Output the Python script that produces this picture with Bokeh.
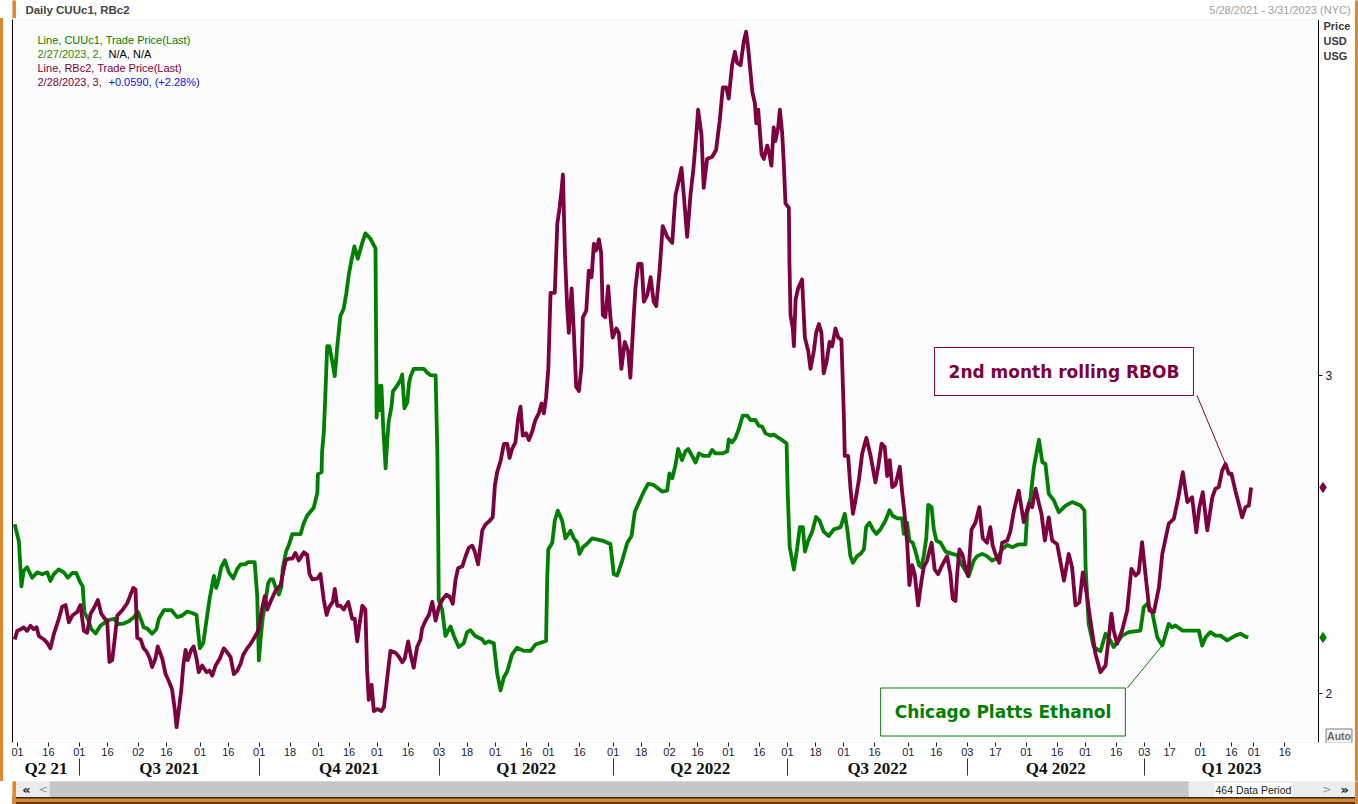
import numpy as np
from bokeh.plotting import figure
from bokeh.models import Range1d, LinearAxis, FixedTicker, Label, BoxAnnotation
from bokeh.layouts import column
from bokeh.embed import file_html
from bokeh.resources import INLINE

# ---------------- data ----------------
START = "2021-05-28"
HOLIDAYS = ["2021-05-31", "2021-07-05", "2021-09-06", "2021-11-25", "2021-12-24",
            "2022-01-17", "2022-02-21", "2022-04-15", "2022-05-30", "2022-06-20",
            "2022-07-04", "2022-09-05", "2022-11-24", "2022-12-26",
            "2023-01-02", "2023-01-16", "2023-02-20"]

tick_dates = ["2021-06-01", "2021-06-16", "2021-07-01", "2021-07-16", "2021-08-02", "2021-08-16",
              "2021-09-01", "2021-09-16", "2021-10-01", "2021-10-18", "2021-11-01", "2021-11-16",
              "2021-12-01", "2021-12-16", "2022-01-03", "2022-01-18", "2022-02-01", "2022-02-16",
              "2022-03-01", "2022-03-16", "2022-04-01", "2022-04-18", "2022-05-02", "2022-05-16",
              "2022-06-01", "2022-06-16", "2022-07-01", "2022-07-18", "2022-08-01", "2022-08-16",
              "2022-09-01", "2022-09-16", "2022-10-03", "2022-10-17", "2022-11-01", "2022-11-16",
              "2022-12-01", "2022-12-16", "2023-01-03", "2023-01-17", "2023-02-01", "2023-02-16",
              "2023-03-01", "2023-03-16"]
quarter_starts = ["2021-07-01", "2021-10-01", "2022-01-03", "2022-04-01", "2022-07-01",
                  "2022-10-03", "2023-01-03"]
quarter_names = ["Q2 21", "Q3 2021", "Q4 2021", "Q1 2022", "Q2 2022", "Q3 2022", "Q4 2022", "Q1 2023"]
price_ticks = [2, 3]

# (trading day since 5/28/2021, price USD/gal) -- Chicago Platts ethanol (CUUc1)
cuu_points = [
    (0.0, 2.532), (1.5, 2.478), (2.4, 2.337), (3.2, 2.386), (4.4, 2.397), (6.2, 2.364), (8.0, 2.381),
    (9.8, 2.375), (11.6, 2.381), (12.7, 2.354), (13.9, 2.375), (15.7, 2.390), (17.5, 2.381), (18.9, 2.364),
    (20.5, 2.379), (21.9, 2.379), (23.4, 2.348), (24.2, 2.337), (24.8, 2.256), (26.0, 2.235), (27.3, 2.202),
    (28.8, 2.189), (30.5, 2.213), (32.9, 2.229), (35.3, 2.235), (37.0, 2.218), (38.8, 2.220), (40.6, 2.227),
    (42.4, 2.240), (43.9, 2.256), (45.1, 2.229), (45.9, 2.208), (47.2, 2.204), (48.9, 2.188), (50.4, 2.202),
    (51.3, 2.235), (53.1, 2.262), (55.8, 2.262), (57.8, 2.240), (59.6, 2.245), (61.4, 2.258), (63.2, 2.253),
    (64.7, 2.247), (65.9, 2.142), (67.1, 2.159), (68.5, 2.245), (69.4, 2.300), (70.9, 2.370), (71.7, 2.332),
    (72.6, 2.359), (73.5, 2.397), (74.8, 2.419), (76.2, 2.381), (77.8, 2.362), (79.2, 2.392), (80.4, 2.406),
    (82.1, 2.406), (83.0, 2.413), (85.4, 2.413), (86.3, 2.308), (86.9, 2.104), (87.5, 2.170), (88.3, 2.241),
    (89.3, 2.294), (90.2, 2.347), (91.0, 2.359), (91.9, 2.359), (92.8, 2.335), (94.0, 2.311), (94.9, 2.335),
    (95.4, 2.394), (96.6, 2.447), (97.5, 2.465), (98.8, 2.501), (101.7, 2.501), (102.9, 2.536), (104.1, 2.560),
    (106.4, 2.584), (107.7, 2.631), (107.9, 2.690), (109.2, 2.696), (109.4, 2.761), (110.0, 2.820),
    (110.6, 2.950), (111.2, 3.092), (112.0, 3.092), (113.0, 3.045), (113.9, 2.998), (114.8, 3.092),
    (115.9, 3.187), (117.1, 3.211), (118.0, 3.258), (118.9, 3.317), (119.9, 3.365), (120.9, 3.406),
    (122.1, 3.367), (123.7, 3.418), (124.8, 3.447), (126.6, 3.430), (128.4, 3.400), (128.6, 3.140),
    (128.8, 2.868), (129.4, 2.968), (129.9, 2.891), (130.5, 2.968), (131.1, 2.844), (132.0, 2.708),
    (132.6, 2.797), (133.1, 2.856), (134.1, 2.903), (134.6, 2.950), (136.1, 2.968), (137.3, 2.986),
    (137.9, 3.003), (138.7, 2.897), (139.7, 2.915), (140.3, 2.974), (140.9, 2.998), (142.0, 3.021),
    (145.6, 3.021), (146.8, 3.009), (148.0, 3.001), (149.8, 3.000), (150.4, 2.761), (150.7, 2.525),
    (150.9, 2.294), (152.1, 2.264), (153.3, 2.181), (155.1, 2.211), (156.3, 2.181), (158.0, 2.146),
    (159.8, 2.158), (161.0, 2.193), (162.2, 2.199), (163.9, 2.181), (166.4, 2.170), (167.3, 2.158),
    (168.7, 2.164), (170.5, 2.158), (171.7, 2.063), (172.9, 2.010), (174.1, 2.051), (175.3, 2.070),
    (177.0, 2.123), (178.8, 2.144), (181.2, 2.134), (183.6, 2.134), (185.3, 2.154), (187.7, 2.161),
    (189.1, 2.165), (189.5, 2.362), (189.9, 2.453), (191.3, 2.474), (192.2, 2.544), (193.3, 2.575),
    (194.8, 2.544), (196.0, 2.488), (197.8, 2.512), (199.0, 2.488), (200.2, 2.474), (201.0, 2.439),
    (202.2, 2.460), (203.7, 2.471), (205.5, 2.488), (209.1, 2.481), (212.0, 2.470), (213.2, 2.375),
    (214.4, 2.371), (216.2, 2.418), (218.0, 2.474), (219.5, 2.495), (220.7, 2.572), (222.1, 2.600),
    (223.9, 2.635), (225.4, 2.659), (227.4, 2.656), (230.4, 2.635), (232.2, 2.638), (233.0, 2.692),
    (234.0, 2.677), (235.2, 2.720), (236.1, 2.769), (237.5, 2.734), (238.7, 2.762), (239.7, 2.769),
    (241.1, 2.747), (242.3, 2.726), (243.5, 2.755), (245.2, 2.747), (247.0, 2.747), (248.2, 2.766),
    (249.4, 2.755), (251.8, 2.755), (253.6, 2.762), (254.1, 2.799), (255.3, 2.790), (256.5, 2.804),
    (257.7, 2.832), (259.1, 2.874), (260.7, 2.874), (261.8, 2.860), (263.6, 2.860), (264.8, 2.842),
    (266.0, 2.839), (267.2, 2.818), (269.0, 2.811), (270.1, 2.814), (271.9, 2.804), (273.1, 2.797),
    (274.7, 2.786), (275.1, 2.628), (275.8, 2.460), (277.3, 2.390), (278.5, 2.460), (279.4, 2.523),
    (280.5, 2.523), (281.2, 2.446), (282.4, 2.481), (283.8, 2.509), (285.2, 2.555), (286.4, 2.544),
    (287.9, 2.509), (289.7, 2.495), (291.5, 2.516), (293.9, 2.523), (295.4, 2.565), (296.3, 2.516),
    (297.4, 2.432), (298.3, 2.411), (299.8, 2.432), (301.0, 2.439), (302.2, 2.453), (303.0, 2.523),
    (304.2, 2.537), (305.4, 2.516), (306.6, 2.502), (308.1, 2.516), (309.9, 2.544), (311.3, 2.576),
    (312.5, 2.558), (314.1, 2.551), (315.8, 2.551), (316.4, 2.502), (317.6, 2.537), (318.4, 2.481),
    (319.6, 2.474), (320.6, 2.446), (321.8, 2.404), (322.6, 2.397), (323.5, 2.432), (324.4, 2.488),
    (325.1, 2.593), (326.3, 2.586), (327.1, 2.516), (328.0, 2.481), (329.5, 2.474), (331.3, 2.446),
    (333.7, 2.439), (335.4, 2.435), (336.6, 2.411), (338.1, 2.390), (339.5, 2.369), (341.3, 2.418),
    (342.5, 2.432), (344.3, 2.439), (346.0, 2.432), (347.8, 2.418), (349.6, 2.425), (351.4, 2.453),
    (353.2, 2.467), (355.0, 2.460), (357.3, 2.469), (359.7, 2.469), (360.3, 2.565), (361.5, 2.617),
    (362.7, 2.712), (364.5, 2.798), (365.7, 2.727), (366.8, 2.722), (368.0, 2.628), (369.8, 2.607),
    (371.6, 2.570), (374.0, 2.591), (376.3, 2.602), (379.3, 2.591), (380.7, 2.575), (381.1, 2.397),
    (382.2, 2.219), (384.0, 2.146), (386.4, 2.133), (388.2, 2.188), (389.9, 2.167), (391.1, 2.146),
    (394.1, 2.182), (396.5, 2.193), (400.6, 2.198), (401.8, 2.271), (403.0, 2.282), (404.8, 2.256),
    (406.6, 2.177), (408.4, 2.151), (410.7, 2.219), (411.9, 2.208), (413.1, 2.214), (415.5, 2.198),
    (421.4, 2.198), (422.6, 2.151), (423.8, 2.177), (425.5, 2.193), (427.3, 2.182), (429.1, 2.182),
    (431.5, 2.167), (434.4, 2.182), (436.2, 2.188), (438.0, 2.179), (439.0, 2.176),
]

# (trading day since 5/28/2021, price USD/gal) -- 2nd month RBOB (RBc2)
rb_points = [
    (0.0, 2.170), (0.9, 2.197), (2.1, 2.202), (3.2, 2.208), (4.4, 2.197), (5.6, 2.213), (6.8, 2.202),
    (7.8, 2.208), (8.6, 2.181), (10.4, 2.170), (11.6, 2.159), (12.7, 2.142), (13.9, 2.186), (15.7, 2.235),
    (16.9, 2.273), (18.1, 2.278), (19.3, 2.224), (20.5, 2.245), (22.2, 2.256), (23.4, 2.278), (24.6, 2.197),
    (25.8, 2.191), (27.0, 2.251), (28.1, 2.267), (29.6, 2.294), (30.8, 2.251), (32.1, 2.235), (32.9, 2.229),
    (33.7, 2.099), (34.7, 2.105), (35.5, 2.164), (36.5, 2.245), (38.3, 2.262), (40.0, 2.283), (41.2, 2.310),
    (42.2, 2.332), (43.0, 2.327), (43.6, 2.175), (44.8, 2.170), (45.9, 2.142), (46.9, 2.132), (48.1, 2.110),
    (48.9, 2.083), (50.1, 2.110), (50.9, 2.148), (52.5, 2.110), (53.7, 2.061), (54.8, 2.040), (56.0, 2.013),
    (57.0, 1.948), (57.6, 1.894), (58.4, 1.948), (59.3, 2.013), (60.0, 2.088), (60.8, 2.137), (61.6, 2.105),
    (62.8, 2.137), (63.7, 2.148), (64.7, 2.110), (65.5, 2.067), (66.7, 2.088), (68.3, 2.067), (69.3, 2.072),
    (70.3, 2.056), (71.5, 2.088), (73.0, 2.110), (74.4, 2.142), (75.4, 2.132), (76.8, 2.115), (78.0, 2.061),
    (79.2, 2.072), (80.4, 2.094), (81.3, 2.121), (82.7, 2.142), (83.7, 2.153), (84.9, 2.170), (86.3, 2.191),
    (86.9, 2.205), (88.1, 2.270), (89.0, 2.306), (89.9, 2.264), (91.0, 2.288), (92.8, 2.323), (94.6, 2.341),
    (96.4, 2.418), (97.5, 2.424), (98.8, 2.424), (99.9, 2.442), (101.1, 2.418), (102.9, 2.444),
    (104.1, 2.436), (104.9, 2.376), (105.9, 2.359), (107.7, 2.361), (108.8, 2.376), (110.0, 2.294),
    (111.0, 2.247), (111.8, 2.270), (113.2, 2.288), (113.9, 2.329), (114.8, 2.276), (115.9, 2.276),
    (117.1, 2.264), (118.7, 2.288), (120.1, 2.235), (121.0, 2.235), (121.9, 2.164), (122.7, 2.217),
    (123.7, 2.276), (124.8, 2.264), (125.4, 2.075), (126.0, 1.980), (127.0, 2.028), (127.8, 1.945),
    (129.0, 1.951), (130.5, 1.945), (131.4, 1.957), (132.6, 2.051), (133.7, 2.134), (135.5, 2.128),
    (136.7, 2.116), (137.9, 2.098), (138.8, 2.110), (140.0, 2.164), (140.9, 2.122), (142.0, 2.081),
    (143.2, 2.146), (144.4, 2.170), (145.0, 2.205), (146.2, 2.229), (147.4, 2.247), (148.6, 2.288),
    (149.8, 2.229), (150.9, 2.270), (152.1, 2.294), (153.6, 2.311), (154.7, 2.306), (155.9, 2.282),
    (156.9, 2.359), (157.8, 2.394), (159.3, 2.400), (160.4, 2.430), (161.6, 2.459), (162.8, 2.465),
    (163.7, 2.447), (164.9, 2.406), (166.4, 2.513), (167.5, 2.531), (168.9, 2.542), (170.1, 2.554),
    (170.9, 2.655), (171.7, 2.696), (172.9, 2.731), (174.1, 2.785), (175.3, 2.785), (176.1, 2.741),
    (177.0, 2.769), (178.2, 2.790), (179.2, 2.867), (180.0, 2.902), (180.8, 2.811), (182.0, 2.818),
    (183.0, 2.797), (184.2, 2.825), (185.3, 2.860), (186.5, 2.881), (187.5, 2.912), (188.3, 2.881),
    (189.1, 2.930), (189.9, 3.021), (190.7, 3.260), (192.2, 3.260), (193.1, 3.478), (193.9, 3.527),
    (194.6, 3.583), (195.1, 3.632), (195.8, 3.386), (196.6, 3.218), (197.2, 3.134), (198.2, 3.274),
    (199.0, 3.134), (199.8, 2.965), (200.8, 2.951), (201.7, 3.028), (202.2, 3.183), (203.4, 3.204),
    (204.3, 3.330), (205.3, 3.309), (206.1, 3.414), (206.9, 3.393), (207.9, 3.428), (208.7, 3.386),
    (209.3, 3.190), (210.2, 3.183), (211.2, 3.281), (212.0, 3.183), (212.8, 3.119), (214.1, 3.148),
    (215.0, 3.134), (215.9, 3.021), (217.1, 3.106), (218.3, 3.077), (219.1, 2.993), (220.3, 3.190),
    (220.9, 3.274), (221.9, 3.351), (223.1, 3.351), (223.9, 3.232), (225.1, 3.253), (226.3, 3.309),
    (227.4, 3.232), (228.3, 3.218), (229.5, 3.330), (230.6, 3.470), (232.2, 3.436), (234.0, 3.417),
    (234.6, 3.499), (235.2, 3.569), (236.3, 3.611), (237.3, 3.653), (238.1, 3.569), (239.3, 3.436),
    (240.5, 3.569), (241.5, 3.646), (242.5, 3.751), (243.2, 3.836), (244.4, 3.758), (245.2, 3.590),
    (246.4, 3.681), (248.2, 3.688), (249.6, 3.709), (250.9, 3.801), (252.0, 3.906), (253.2, 3.906),
    (254.1, 3.871), (255.3, 3.976), (256.3, 4.018), (257.1, 3.983), (258.3, 3.976), (259.5, 4.053),
    (260.3, 4.081), (261.0, 4.032), (261.9, 3.948), (262.5, 3.892), (263.4, 3.857), (263.9, 3.793),
    (264.6, 3.836), (265.8, 3.695), (266.6, 3.681), (267.8, 3.723), (268.6, 3.695), (269.3, 3.660),
    (270.1, 3.780), (270.7, 3.737), (271.7, 3.780), (272.3, 3.836), (273.1, 3.765), (273.7, 3.667),
    (274.3, 3.541), (275.5, 3.527), (275.7, 3.358), (276.1, 3.190), (276.9, 3.148), (277.3, 3.092),
    (277.9, 3.239), (278.8, 3.274), (280.2, 3.302), (281.2, 3.119), (282.4, 3.077), (283.2, 3.021),
    (284.4, 3.077), (285.2, 3.134), (286.2, 3.162), (287.1, 3.134), (287.9, 3.007), (288.9, 3.042),
    (290.0, 3.106), (290.9, 3.092), (292.1, 3.148), (293.1, 3.119), (294.2, 3.113), (295.1, 2.867),
    (295.4, 2.747), (296.6, 2.747), (297.4, 2.649), (298.3, 2.565), (299.2, 2.607), (300.4, 2.670),
    (301.6, 2.755), (303.1, 2.804), (304.6, 2.747), (306.3, 2.664), (307.3, 2.713), (308.5, 2.786),
    (309.6, 2.776), (310.5, 2.684), (311.4, 2.734), (312.3, 2.649), (313.4, 2.656), (315.0, 2.713),
    (315.8, 2.635), (316.6, 2.572), (317.6, 2.474), (318.4, 2.341), (319.4, 2.404), (320.3, 2.375),
    (321.5, 2.277), (322.7, 2.354), (323.5, 2.397), (324.7, 2.418), (326.3, 2.474), (327.4, 2.390),
    (328.6, 2.375), (330.1, 2.404), (331.8, 2.432), (333.0, 2.375), (333.8, 2.298), (334.8, 2.291),
    (335.4, 2.375), (336.2, 2.453), (337.2, 2.439), (338.1, 2.404), (339.3, 2.369), (340.5, 2.516),
    (341.9, 2.537), (343.3, 2.586), (344.5, 2.488), (346.0, 2.474), (347.2, 2.523), (348.0, 2.467),
    (349.0, 2.439), (350.4, 2.411), (351.4, 2.474), (353.2, 2.481), (354.3, 2.509), (355.6, 2.575),
    (357.3, 2.638), (359.1, 2.539), (360.9, 2.597), (362.1, 2.586), (363.3, 2.644), (364.5, 2.597),
    (365.4, 2.565), (366.6, 2.481), (368.0, 2.554), (369.2, 2.481), (371.0, 2.469), (373.4, 2.355),
    (375.1, 2.439), (376.3, 2.397), (377.5, 2.277), (378.9, 2.287), (380.1, 2.381), (381.3, 2.324),
    (382.8, 2.230), (384.6, 2.125), (386.4, 2.067), (388.2, 2.088), (390.3, 2.251), (391.1, 2.198),
    (392.3, 2.156), (394.1, 2.198), (395.9, 2.261), (397.4, 2.392), (398.9, 2.371), (400.0, 2.381),
    (401.2, 2.476), (402.4, 2.376), (403.8, 2.261), (405.4, 2.256), (407.2, 2.334), (408.4, 2.439),
    (410.7, 2.534), (412.5, 2.549), (414.1, 2.617), (415.7, 2.696), (417.3, 2.602), (419.0, 2.617),
    (420.5, 2.507), (421.6, 2.586), (422.8, 2.633), (424.4, 2.513), (426.2, 2.617), (427.3, 2.644),
    (428.5, 2.649), (429.7, 2.701), (430.9, 2.722), (432.1, 2.691), (433.0, 2.691), (434.4, 2.638),
    (435.6, 2.597), (436.8, 2.554), (438.0, 2.586), (439.2, 2.591), (440.0, 2.648),
]

cuu_day = [d for d, _ in cuu_points]
cuu_price = [v for _, v in cuu_points]
rb_day = [d for d, _ in rb_points]
rb_price = [v for _, v in rb_points]


def tday(d):
    return int(np.busday_count(START, d, holidays=HOLIDAYS))


# ---------------- page-pixel helpers (only for chrome placement) ----------------
PX0, PPD = 14.2, 2.81


def px2x(px):
    return (px - PX0) / PPD


def py2y(py):
    return 3 + (375 - py) / 318


X0, X1 = px2x(12), px2x(1358)      # frame spans the full width right of the left border
XP = px2x(1318)                    # right edge of the price area (price axis position)
Y0, Y1 = py2y(742), py2y(19)

GREEN = "#008000"
MAROON = "#7d0040"
ORANGE = "#e3862b"
FONT = "Liberation Sans"
W = 1358
BG = (f"linear-gradient(90deg, {ORANGE} 0px, {ORANGE} 3px, #ffffff 3px, "
      f"#ffffff 1355px, {ORANGE} 1355px)")

# ---------------- header ----------------
hdr = figure(width=W, height=18, x_range=Range1d(0, W), y_range=Range1d(18, 0),
             x_axis_type=None, y_axis_type=None, min_border=0, toolbar_location=None,
             output_backend="svg", outline_line_color=None,
             background_fill_color="white", border_fill_color="white")
hdr.grid.visible = False
hdr.quad(left=[0, W - 3], right=[3, W], top=[0, 0], bottom=[18, 18], color=ORANGE)
hdr.add_layout(Label(x=13, y=9, text="Daily CUUc1, RBc2", text_font=FONT, text_font_style="bold",
                     text_font_size="11.5px", text_color="#454545", text_baseline="middle"))
hdr.add_layout(Label(x=1350, y=9, text="5/28/2021 - 3/31/2023 (NYC)", text_font=FONT,
                     text_font_size="11px", text_color="#a0a0a0", text_baseline="middle",
                     text_align="right"))

# ---------------- main chart ----------------
p = figure(width=W, height=763, x_range=Range1d(X0, X1), y_range=Range1d(Y0, Y1),
           y_axis_location=None, output_backend="svg", toolbar_location=None,
           min_border_left=12, min_border_right=0, min_border_top=1, min_border_bottom=39,
           background_fill_color="white", background_fill_alpha=0,
           border_fill_color="white", border_fill_alpha=0,
           outline_line_color=None, styles={"background": BG})
p.grid.visible = False

# plot-area panel (light background, grey frame)
p.add_layout(BoxAnnotation(left=X0, right=XP, bottom=Y0, top=Y1, fill_color="#fcfcfc",
                           fill_alpha=1, line_color="#c4c4c4", line_width=1, level="underlay"))

day_ticks = [tday(d) for d in tick_dates]
xa = p.xaxis[0]
xa.ticker = FixedTicker(ticks=day_ticks)
xa.major_label_overrides = {t: d[-2:] for t, d in zip(day_ticks, tick_dates)}
xa.major_tick_out = 4
xa.major_tick_in = 0
xa.minor_tick_out = 0
xa.minor_tick_in = 0
xa.axis_line_color = None
xa.major_tick_line_color = "#1a1a40"
xa.major_label_standoff = 1
xa.major_label_text_font = FONT
xa.major_label_text_font_size = "11px"
xa.major_label_text_color = "#1a1a40"

q_bounds = [tday(d) for d in quarter_starts]
edges = [X0] + q_bounds + [XP]
q_centers = [round((a + b) / 2, 2) for a, b in zip(edges[:-1], edges[1:])]
qa = LinearAxis(ticker=FixedTicker(ticks=q_centers, minor_ticks=q_bounds))
qa.major_label_overrides = dict(zip(q_centers, quarter_names))
qa.major_tick_line_color = None
qa.major_tick_out = 0
qa.major_tick_in = 0
qa.minor_tick_out = 0
qa.minor_tick_in = -17
qa.minor_tick_line_color = "#303030"
qa.axis_line_color = None
qa.major_label_standoff = 0
qa.major_label_text_font = "Liberation Serif"
qa.major_label_text_font_style = "bold"
qa.major_label_text_font_size = "17px"
qa.major_label_text_color = "#111111"
p.add_layout(qa, "below")

# price axis drawn at the right edge of the price area
ya = LinearAxis(ticker=FixedTicker(ticks=price_ticks), fixed_location=XP)
ya.major_tick_out = 4
ya.major_tick_in = 0
ya.minor_tick_out = 0
ya.minor_tick_in = 0
ya.axis_line_color = "black"
ya.major_tick_line_color = "#101040"
ya.major_label_standoff = 3
ya.major_label_text_font = FONT
ya.major_label_text_font_size = "12px"
ya.major_label_text_color = "#101040"
p.add_layout(ya, "right")

la = LinearAxis(ticker=FixedTicker(ticks=[]), axis_line_color="black", major_tick_out=0,
                major_tick_in=0, minor_tick_out=0, minor_tick_in=0, major_label_standoff=0,
                major_label_text_font_size="0px")
p.add_layout(la, "left")

p.line(cuu_day, cuu_price, line_color=GREEN, line_width=3.8, line_join="round")
p.line(rb_day, rb_price, line_color=MAROON, line_width=3.8, line_join="round")

# last-value markers on the price axis
p.scatter(x=[px2x(1322.5)], y=[rb_price[-1]], marker="diamond", size=10, color=MAROON)
p.scatter(x=[px2x(1322.5)], y=[cuu_price[-1]], marker="diamond", size=10, color=GREEN)

# legend block (top-left)
rows = [py2y(39), py2y(53), py2y(67), py2y(81)]
lx = px2x(37)
lx2 = px2x(108)
for txt, x, y, c in [("Line, CUUc1, Trade Price(Last)", lx, rows[0], GREEN),
                     ("2/27/2023, 2,", lx, rows[1], "#2e8a00"),
                     ("N/A, N/A", lx2, rows[1], "#000000"),
                     ("Line, RBc2, Trade Price(Last)", lx, rows[2], MAROON),
                     ("2/28/2023, 3,", lx, rows[3], MAROON),
                     ("+0.0590, (+2.28%)", lx2, rows[3], "#1010f0")]:
    p.add_layout(Label(x=x, y=y, text=txt, text_font=FONT, text_font_size="11px",
                       text_color=c, text_baseline="middle"))

# right side chrome
for txt, py in [("Price", 25), ("USD", 40), ("USG", 55)]:
    p.add_layout(Label(x=px2x(1323), y=py2y(py), text=txt, text_font=FONT, text_font_style="bold",
                       text_font_size="11px", text_color="#3a3a3a", text_baseline="middle"))
p.add_layout(Label(x=px2x(1338.5), y=py2y(735.5), text="Auto", text_font=FONT,
                   text_font_style="bold", text_font_size="10.5px", text_color="#6a6a6a",
                   text_align="center", text_baseline="middle", background_fill_color="#f4f4f4",
                   border_line_color="#7a7a7a", padding=1))

# annotation boxes with leader lines
p.add_layout(Label(x=px2x(1063.5), y=py2y(371), text="2nd month rolling RBOB",
                   text_font="DejaVu Sans", text_font_style="bold", text_font_size="17px",
                   text_color=MAROON, text_align="center", text_baseline="middle",
                   background_fill_color="white", border_line_color=MAROON, border_line_width=1,
                   padding=14))
p.add_layout(Label(x=px2x(1002.5), y=py2y(711.5), text="Chicago Platts Ethanol",
                   text_font="DejaVu Sans", text_font_style="bold", text_font_size="17px",
                   text_color=GREEN, text_align="center", text_baseline="middle",
                   background_fill_color="white", border_line_color=GREEN, border_line_width=1,
                   padding=14))

rb_arr = np.array(rb_price)
rb_d = np.array(rb_day)
m = (rb_d > 425) & (rb_d < 435)
i_pk = int(np.argmax(np.where(m, rb_arr, -1)))
p.line([px2x(1196.5), rb_day[i_pk]], [py2y(395), rb_price[i_pk]], line_color=MAROON, line_width=1)

cu_arr = np.array(cuu_price)
cu_d = np.array(cuu_day)
m2 = (cu_d > 405) & (cu_d < 410)
i_lo = int(np.argmin(np.where(m2, cu_arr, 99)))
p.line([px2x(1126.7), cuu_day[i_lo]], [py2y(687.7), cuu_price[i_lo]], line_color=GREEN, line_width=1)

# ---------------- scroll bar strip ----------------
scr = figure(width=W, height=23, x_range=Range1d(0, W), y_range=Range1d(23, 0),
             x_axis_type=None, y_axis_type=None, min_border=0, toolbar_location=None,
             output_backend="svg", outline_line_color=None,
             background_fill_color="white", border_fill_color="white")
scr.grid.visible = False
scr.quad(left=[3], right=[W - 3], top=[0], bottom=[16], color="#ececec")
scr.quad(left=[38], right=[1186], top=[0], bottom=[16], color="#c6c6c6")
scr.quad(left=[0], right=[W], top=[16], bottom=[17.5], color="#2a2a2a")
scr.quad(left=[0], right=[W], top=[17.5], bottom=[21], color=ORANGE)
scr.quad(left=[0], right=[W], top=[21], bottom=[23], color="#5a3a1c")
scr.quad(left=[0, W - 3], right=[3, W], top=[0, 0], bottom=[23, 23], color=ORANGE)
scr.add_layout(Label(x=14, y=8, text="«", text_font="DejaVu Sans", text_font_style="bold",
                     text_font_size="13px", text_color="#202020", text_align="center",
                     text_baseline="middle"))
scr.add_layout(Label(x=31, y=8, text="<", text_font="DejaVu Sans", text_font_size="11px",
                     text_color="#909090", text_align="center", text_baseline="middle"))
scr.add_layout(Label(x=1326, y=8, text=">", text_font="DejaVu Sans", text_font_size="11px",
                     text_color="#909090", text_align="center", text_baseline="middle"))
scr.add_layout(Label(x=1344, y=8, text="»", text_font="DejaVu Sans", text_font_style="bold",
                     text_font_size="13px", text_color="#202020", text_align="center",
                     text_baseline="middle"))
scr.add_layout(Label(x=1252, y=8.5, text="464 Data Period", text_font=FONT,
                     text_font_size="10.5px", text_color="#1a1a1a", text_align="center",
                     text_baseline="middle", background_fill_color="white", padding=1))

layout = column(hdr, p, scr, spacing=0)
open("out.html", "w").write(file_html(layout, INLINE))
